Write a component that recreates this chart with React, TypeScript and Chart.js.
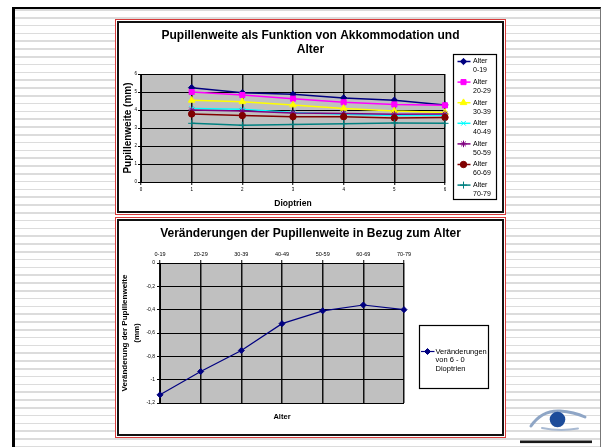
import React, { useEffect, useRef } from 'react';
import { Chart, registerables } from 'chart.js';
import { drawPoint } from 'chart.js/helpers';

Chart.register(...registerables);

const FONT = 'Arial, "Liberation Sans", sans-serif';
Chart.defaults.font.family = FONT;
Chart.defaults.color = '#000';

// ---------- data ----------
const dioptrien = [1, 2, 3, 4, 5, 6];
const ageGroups = ['0-19', '20-29', '30-39', '40-49', '50-59', '60-69', '70-79'];
const alter0_19 = [5.24, 4.96, 4.87, 4.67, 4.54, 4.28];
const alter20_29 = [5.0, 4.83, 4.63, 4.43, 4.31, 4.26];
const alter30_39 = [4.54, 4.46, 4.28, 4.09, 3.94, 3.86];
const alter40_49 = [4.09, 4.04, 3.86, 3.77, 3.69, 3.71];
const alter50_59 = [4.0, 3.94, 3.83, 3.8, 3.77, 3.78];
const alter60_69 = [3.78, 3.69, 3.63, 3.63, 3.56, 3.59];
const alter70_79 = [3.26, 3.15, 3.2, 3.24, 3.28, 3.26];
const pupilSeries = [alter0_19, alter20_29, alter30_39, alter40_49, alter50_59, alter60_69, alter70_79];
const chart1Title = ['Pupillenweite als Funktion von Akkommodation und', 'Alter'];

const changeValues = [-1.13, -0.93, -0.75, -0.52, -0.41, -0.36, -0.4];
const changeLabel = 'Veränderungen\nvon 6 - 0\nDioptrien';
const chart2Title = 'Veränderungen der Pupillenweite in Bezug zum Alter';

// ---------- styles ----------
const seriesStyles = [
  { color: '#000080', pointStyle: 'rectRot', radius: 3.2 },
  { color: '#ff00ff', pointStyle: 'rect', radius: 3.6 },
  { color: '#ffff00', pointStyle: 'triangle', radius: 3.8 },
  { color: '#00ffff', pointStyle: 'crossRot', radius: 3.3 },
  { color: '#800080', pointStyle: 'star', radius: 3.3 },
  { color: '#800000', pointStyle: 'circle', radius: 3.2 },
  { color: '#008080', pointStyle: 'cross', radius: 3.5 },
];

const plotBg = {
  id: 'plotBg',
  beforeDraw(chart: any) {
    const { ctx, chartArea: a } = chart;
    ctx.save();
    ctx.fillStyle = '#c0c0c0';
    ctx.fillRect(a.left, a.top, a.right - a.left, a.bottom - a.top);
    ctx.restore();
  },
};

const boxLegend = {
  id: 'boxLegend',
  afterDraw(chart: any, _args: any, o: any) {
    if (!o || !o.show) return;
    const { ctx, chartArea } = chart;
    const bx = Math.round(chartArea.right + o.dx) + 0.5;
    const by = Math.round(chartArea.top + o.dy) + 0.5;
    ctx.save();
    ctx.fillStyle = '#fff';
    ctx.fillRect(bx, by, o.w, o.h);
    ctx.strokeStyle = '#000';
    ctx.lineWidth = 1.2;
    ctx.strokeRect(bx, by, o.w, o.h);
    ctx.font = `${o.fontSize}px ${FONT}`;
    ctx.textBaseline = 'middle';
    ctx.textAlign = 'left';
    chart.data.datasets.forEach((ds: any, i: number) => {
      const y = by + o.firstY + i * o.itemH;
      ctx.strokeStyle = ds.borderColor;
      ctx.lineWidth = ds.borderWidth;
      ctx.beginPath();
      ctx.moveTo(bx + o.lineX0, y);
      ctx.lineTo(bx + o.lineX1, y);
      ctx.stroke();
      ctx.fillStyle = ds.pointBackgroundColor;
      ctx.strokeStyle = ds.pointBorderColor;
      ctx.lineWidth = ds.pointBorderWidth;
      drawPoint(ctx, { pointStyle: ds.pointStyle, radius: ds.pointRadius, rotation: 0, borderWidth: ds.pointBorderWidth } as any, bx + o.markerX, y);
      ctx.fillStyle = '#000';
      String(ds.label).split('\n').forEach((line: string, j: number) => {
        ctx.fillText(line, bx + o.textX, y + j * o.lineH);
      });
    });
    ctx.restore();
  },
};

const fmtComma = (v: any) => {
  const n = Math.round(Number(v) * 10) / 10;
  return n === 0 ? '0' : String(n).replace('.', ',');
};

function chart1Config(): any {
  const n = pupilSeries.length;
  return {
    type: 'line',
    data: {
      datasets: pupilSeries.map((vals, i) => ({
        label: 'Alter\n' + ageGroups[i],
        data: dioptrien.map((d, j) => ({ x: d, y: vals[j] })),
        xAxisID: 'x',
        yAxisID: 'y',
        order: n - i,
        borderColor: seriesStyles[i].color,
        backgroundColor: seriesStyles[i].color,
        pointBackgroundColor: seriesStyles[i].color,
        pointBorderColor: seriesStyles[i].color,
        pointStyle: seriesStyles[i].pointStyle,
        pointRadius: seriesStyles[i].radius,
        pointBorderWidth: 1,
        borderWidth: 1.5,
        tension: 0,
        clip: false,
      })),
    },
    options: {
      animation: false,
      responsive: false,
      events: [],
      layout: { padding: 0 },
      plugins: {
        legend: { display: false },
        tooltip: { enabled: false },
        title: {
          display: true,
          text: chart1Title,
          color: '#000',
          font: { size: 12, weight: 'bold', lineHeight: '14px' },
          padding: { top: 6, bottom: 17 },
        },
        boxLegend: {
          show: true, dx: 8, dy: -20, w: 43, h: 145, firstY: 7, itemH: 20.6, lineH: 9,
          lineX0: 4, lineX1: 17, markerX: 10, textX: 19.5, fontSize: 7,
        },
      },
      scales: {
        x: {
          type: 'linear', position: 'bottom', min: 0, max: 6,
          ticks: { stepSize: 1, font: { size: 4.5 }, padding: 2.3, maxRotation: 0, autoSkip: false },
          grid: { color: '#111', lineWidth: 1.5, tickLength: 3, tickColor: '#000', tickWidth: 1 },
          border: { color: '#000', width: 1 },
          title: { display: true, text: 'Dioptrien', font: { size: 8.5, weight: 'bold' }, padding: { top: 0, bottom: 2 } },
          afterFit: (s: any) => { s.height = 29; },
        },
        y: {
          type: 'linear', position: 'left', min: 0, max: 6,
          ticks: { stepSize: 1, font: { size: 4.5 }, padding: 1 },
          grid: { color: '#000', lineWidth: 1, tickLength: 3, tickColor: '#000' },
          border: { color: '#000', width: 1 },
          title: { display: true, text: 'Pupillenweite (mm)', font: { size: 10, weight: 'bold', lineHeight: '12px' }, padding: { top: 3, bottom: 0 } },
          afterFit: (s: any) => { s.width = 22; },
        },
        legendSpace: {
          type: 'linear', position: 'right', display: true,
          grid: { display: false }, border: { display: false }, ticks: { display: false },
          afterFit: (s: any) => { s.width = 57; },
        },
      },
    },
    plugins: [plotBg, boxLegend],
  };
}

function chart2Config(): any {
  return {
    type: 'line',
    data: {
      labels: ageGroups,
      datasets: [
        {
          label: changeLabel,
          data: changeValues,
          xAxisID: 'x',
          yAxisID: 'y',
          borderColor: '#000080',
          backgroundColor: '#000080',
          pointBackgroundColor: '#000080',
          pointBorderColor: '#000080',
          pointStyle: 'rectRot',
          pointRadius: 3,
          pointBorderWidth: 1,
          borderWidth: 1.2,
          tension: 0,
          clip: false,
        },
      ],
    },
    options: {
      animation: false,
      responsive: false,
      events: [],
      layout: { padding: 0 },
      plugins: {
        legend: { display: false },
        tooltip: { enabled: false },
        title: {
          display: true,
          text: chart2Title,
          color: '#000',
          font: { size: 12, weight: 'bold', lineHeight: '14px' },
          padding: { top: 6, bottom: 4 },
        },
        boxLegend: {
          show: true, dx: 15, dy: 62, w: 69, h: 63, firstY: 26, itemH: 20, lineH: 8.5,
          lineX0: 1.5, lineX1: 15, markerX: 8, textX: 16, fontSize: 7.5,
        },
      },
      scales: {
        x: {
          type: 'category', position: 'top', offset: false,
          ticks: { font: { size: 5.5 }, padding: 2, maxRotation: 0, autoSkip: false },
          grid: { color: '#111', lineWidth: 1.5, tickLength: 3, tickColor: '#000', tickWidth: 1, offset: false },
          border: { color: '#000', width: 1 },
          afterFit: (s: any) => { s.height = 18; },
        },
        x2: {
          type: 'category', position: 'bottom', offset: false,
          grid: { display: false }, border: { display: false }, ticks: { display: false },
          title: { display: true, text: 'Alter', font: { size: 7.5, weight: 'bold' }, padding: { top: 0, bottom: 12.5 } },
          afterFit: (s: any) => { s.height = 31; },
        },
        y: {
          type: 'linear', position: 'left', min: -1.2, max: 0,
          ticks: { stepSize: 0.2, font: { size: 5 }, padding: 2, callback: fmtComma },
          grid: { color: '#000', lineWidth: 1, tickLength: 3, tickColor: '#000' },
          border: { color: '#000', width: 1 },
          title: {
            display: true,
            text: ['Veränderung der Pupillenweite', '(mm)'],
            font: { size: 8, weight: 'bold', lineHeight: '12px' },
            padding: { top: 0, bottom: 0 },
          },
          afterFit: (s: any) => { s.width = 41; },
        },
        legendSpace: {
          type: 'linear', position: 'right', display: true,
          grid: { display: false }, border: { display: false }, ticks: { display: false },
          afterFit: (s: any) => { s.width = 98; },
        },
      },
    },
    plugins: [plotBg, boxLegend],
  };
}

function ChartCanvas({ make, width, height }: { make: () => any; width: number; height: number }) {
  const ref = useRef<HTMLCanvasElement>(null);
  useEffect(() => {
    const chart = new Chart(ref.current as HTMLCanvasElement, make());
    return () => chart.destroy();
  }, []);
  return <canvas ref={ref} width={width} height={height} style={{ display: 'block', width, height }} />;
}

function Frame({ top, height, children }: { top: number; height: number; children: any }) {
  return (
    <div
      style={{
        position: 'absolute', left: 115, top, width: 391, height,
        boxSizing: 'border-box', border: '1px solid #d83c3c', padding: 1, background: '#fff',
      }}
    >
      <div
        style={{
          boxSizing: 'border-box', width: '100%', height: '100%',
          border: '2px solid #111', background: '#fff', overflow: 'hidden',
        }}
      >
        {children}
      </div>
    </div>
  );
}

function Logo() {
  return (
    <svg style={{ position: 'absolute', left: 520, top: 398 }} width={80} height={49}>
      <path d="M11 28 Q 22 12 40 13 Q 54 14 65 19" fill="none" stroke="#8fa6c6" strokeWidth={3} strokeLinecap="round" />
      <circle cx={37.5} cy={21.5} r={7.8} fill="#1d4c9a" />
      <path d="M22 30 Q 40 33.5 58 30.5" fill="none" stroke="#a9bad2" strokeWidth={2} strokeLinecap="round" />
      <rect x={0} y={42.5} width={72} height={2.6} fill="#1a1a1a" />
    </svg>
  );
}

export default function App() {
  const stripes =
    'repeating-linear-gradient(180deg, #ffffff 0px, #ffffff 0.2px, #dcdcdc 0.2px, #dcdcdc 1.8px, #ffffff 1.8px, #ffffff 7.8px)';
  return (
    <div style={{ position: 'fixed', left: 0, top: 0, width: 602, height: 447, background: '#fff', overflow: 'hidden' }}>
      <div
        style={{
          position: 'absolute', left: 12, top: 7, width: 589, height: 460, boxSizing: 'border-box',
          borderLeft: '3px solid #000', borderTop: '2px solid #000', borderRight: '1px solid #777',
          background: stripes,
        }}
      />
      <Frame top={19} height={196}>
        <ChartCanvas make={chart1Config} width={383} height={188} />
      </Frame>
      <Frame top={217} height={221}>
        <ChartCanvas make={chart2Config} width={383} height={213} />
      </Frame>
      <Logo />
    </div>
  );
}
